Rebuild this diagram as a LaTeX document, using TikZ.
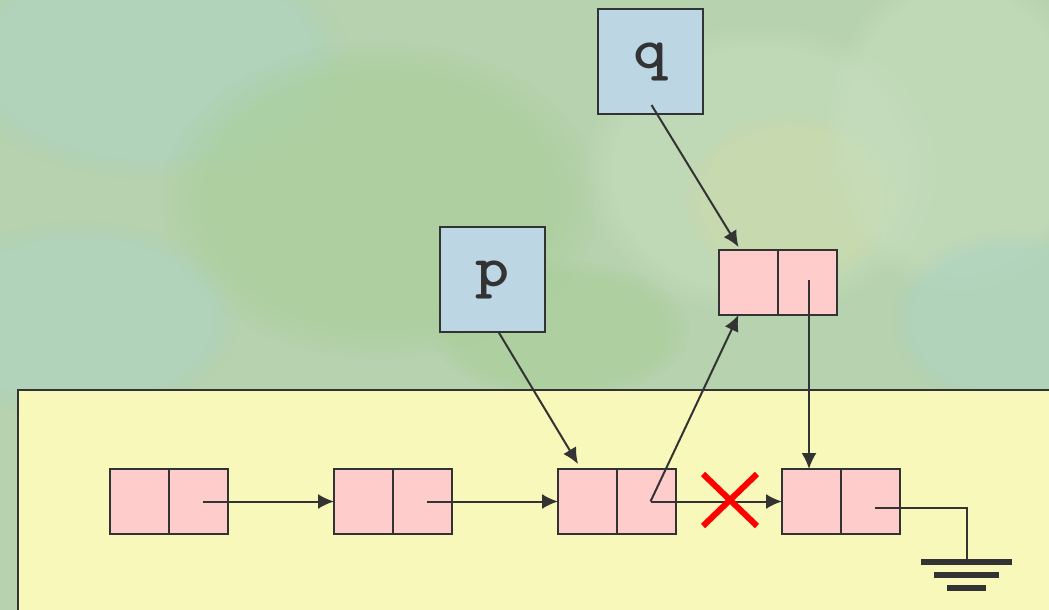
\documentclass[tikz,border=0pt]{standalone}
\usepackage{fontspec}
\newfontfamily\ptrfam[FakeStretch=1.12]{lmmonolt10-bold.otf}
\usetikzlibrary{arrows.meta,fadings}
\definecolor{bgbase}{RGB}{182,210,174}
\definecolor{bgblue}{RGB}{172,212,196}
\definecolor{bggreen}{RGB}{168,206,150}
\definecolor{bglight}{RGB}{200,222,190}
\definecolor{bgyel}{RGB}{204,218,170}
\definecolor{panel}{RGB}{247,248,185}
\definecolor{cellpink}{RGB}{255,204,204}
\definecolor{ptrblue}{RGB}{188,214,228}
\definecolor{ink}{RGB}{51,51,51}
\tikzset{
  cell/.style={draw=ink, line width=2pt, fill=cellpink, minimum width=59pt, minimum height=65pt, inner sep=0pt, outer sep=0pt},
  ptr/.style={draw=ink, line width=2pt, fill=ptrblue, minimum width=105pt, minimum height=105pt, inner sep=0pt, outer sep=0pt, text=ink, font=\ptrfam\fontsize{58}{58}\selectfont},
  link/.style={draw=ink, line width=2pt, -{Latex[length=16pt,width=15pt]}},
  wire/.style={draw=ink, line width=2pt},
  bar/.style={draw=none, fill=ink},
  blob/.style={path fading=circle with fuzzy edge 20 percent, opacity=0.55}
}
\begin{document}
\begin{tikzpicture}[x=1pt,y=-1pt]
\useasboundingbox (0,0) rectangle (1049,610);
\fill[bgbase] (0,0) rectangle (1049,610);
\fill[bgblue, blob] (150,60) ellipse (200 and 120);
\fill[bggreen, blob] (380,200) ellipse (220 and 160);
\fill[bgblue, blob] (80,320) ellipse (160 and 100);
\fill[bglight, blob] (760,170) ellipse (180 and 150);
\fill[bgyel, blob] (790,200) ellipse (110 and 90);
\fill[bglight, blob] (960,130) ellipse (140 and 170);
\fill[bgblue, blob] (1010,320) ellipse (120 and 90);
\fill[bggreen, blob] (560,330) ellipse (130 and 70);
\draw[draw=ink, line width=2pt, fill=panel] (18,390) rectangle (1060,620);
% pointer boxes
\node[ptr, anchor=north west] (q) at (598,9) {\raisebox{-8pt}{q}};
\node[ptr, anchor=north west] (p) at (440,227) {\raisebox{-9pt}{p}};
% list cells
\node[cell, anchor=north west] (n1a) at (110,469) {};
\node[cell, anchor=north west] (n1b) at (169,469) {};
\node[cell, anchor=north west] (n2a) at (334,469) {};
\node[cell, anchor=north west] (n2b) at (393,469) {};
\node[cell, anchor=north west] (n3a) at (558,469) {};
\node[cell, anchor=north west] (n3b) at (617,469) {};
\node[cell, anchor=north west] (n4a) at (782,469) {};
\node[cell, anchor=north west] (n4b) at (841,469) {};
\node[cell, anchor=north west] (ta) at (719,250) {};
\node[cell, anchor=north west] (tb) at (778,250) {};
% pointer origins
\coordinate (o1) at ([xshift=4pt]n1b.center);
\coordinate (o2) at ([xshift=4pt]n2b.center);
\coordinate (o3) at ([xshift=4pt]n3b.center);
\coordinate (o4) at ([xshift=4.5pt,yshift=-6.5pt]n4b.center);
\coordinate (ot) at ([xshift=1.5pt,yshift=2.5pt]tb.center);
% links
\draw[link] (o1) -- (n2a.west);
\draw[link] (o2) -- (n3a.west);
\draw[link] (o3) -- (n4a.west);
\draw[link] (o3) -- ([xshift=-10pt]ta.south);
\draw[link] (ot) -- (ot |- n4a.north);
\draw[link] ([xshift=1pt,yshift=9pt]q.south) -- ([xshift=-10pt,yshift=3pt]ta.north);
\draw[link] ([xshift=6pt]p.south) -- ([xshift=-9.5pt,yshift=5pt]n3a.north);
% red cross
\draw[red, line width=6pt] (703,474) -- (757,526) (757,474) -- (703,526);
% ground
\coordinate (g) at (967,560);
\draw[wire] (o4) -| (g);
\fill[bar] (921,559) rectangle (1012,565);
\fill[bar] (934,572) rectangle (999,578);
\fill[bar] (947,585) rectangle (986,591);
\end{tikzpicture}
\end{document}
